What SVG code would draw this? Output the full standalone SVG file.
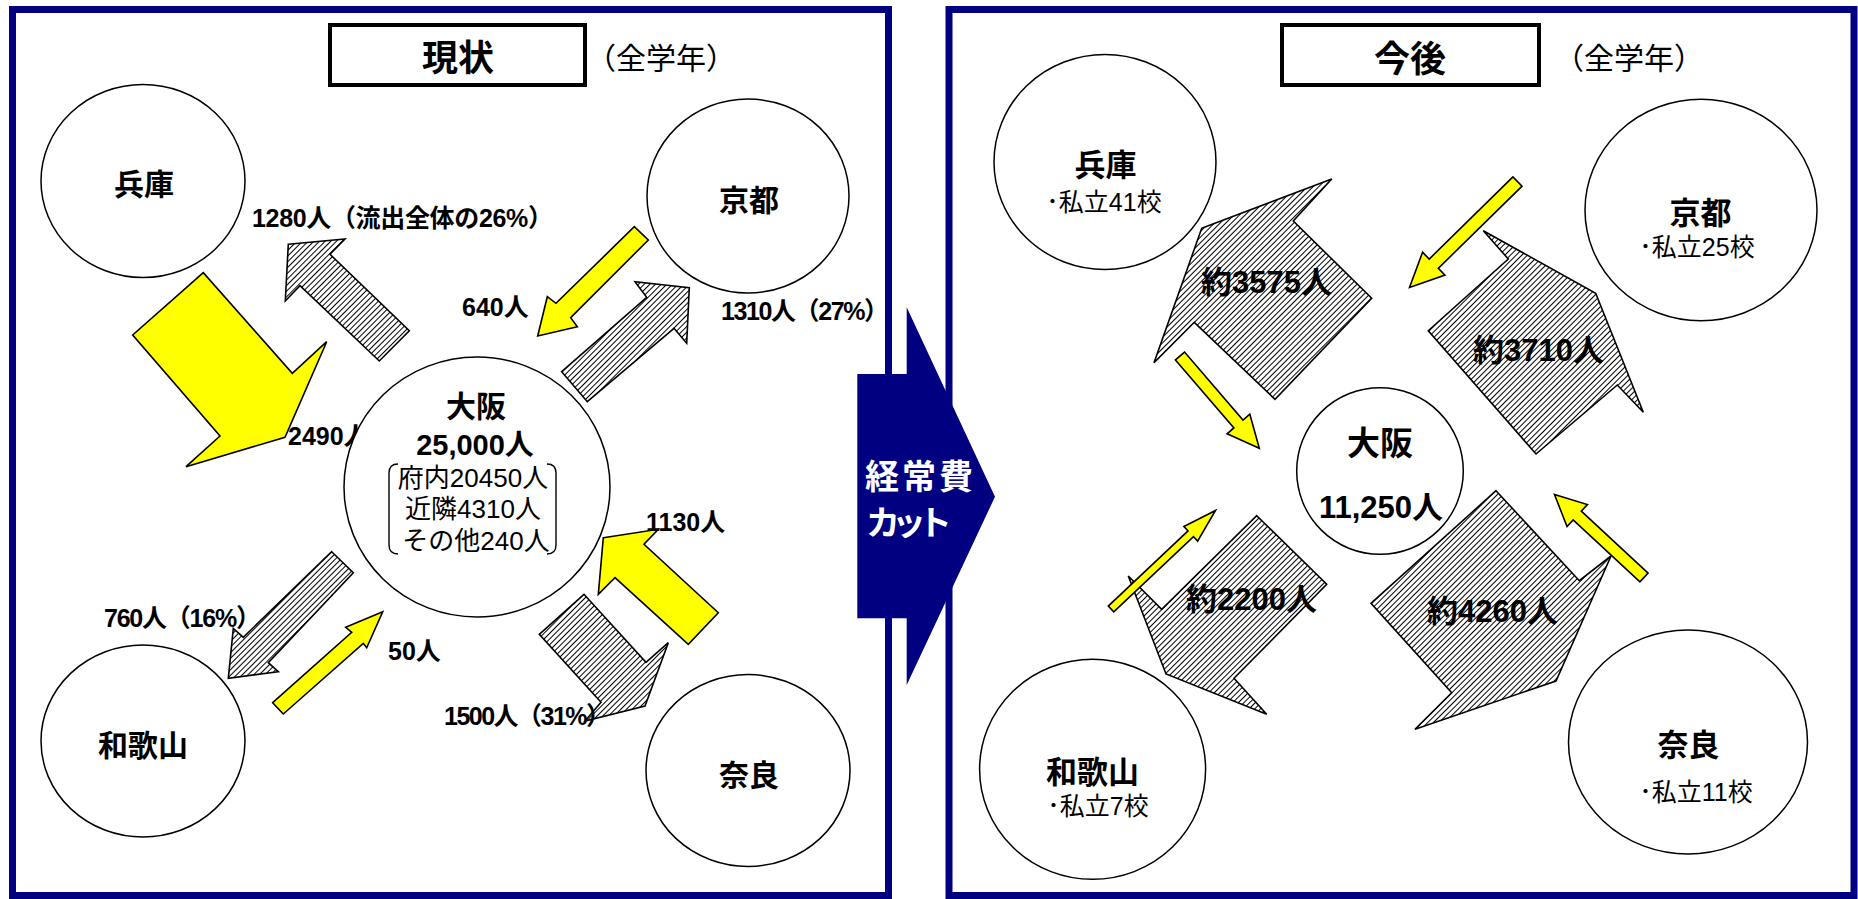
<svg xmlns="http://www.w3.org/2000/svg" width="1858" height="899" viewBox="0 0 1858 899">
<defs>
<style>
.panel{fill:none;stroke:#000080;stroke-width:7}
.title{fill:#fff;stroke:#000;stroke-width:4}
.node{fill:#fff;stroke:#000;stroke-width:1.5}
.yel{fill:#ffff00;stroke:#000;stroke-width:1.6}
.gry{fill:url(#hatch);stroke:#000;stroke-width:1.6}
.jb{font-family:"Noto Sans CJK JP",sans-serif;font-weight:bold;fill:#000}
.jr{font-family:"Noto Sans CJK JP",sans-serif;font-weight:normal;fill:#000}
.lb{font-family:"Liberation Sans","Noto Sans CJK JP",sans-serif;font-weight:bold;fill:#000}
.lr{font-family:"Liberation Sans","Noto Sans CJK JP",sans-serif;font-weight:normal;fill:#000}
.wt{font-family:"Noto Sans CJK JP",sans-serif;font-weight:bold;fill:#fff}
.brk{fill:none;stroke:#000;stroke-width:1.4}
</style>
<pattern id="hatch" patternUnits="userSpaceOnUse" width="4" height="4" patternTransform="rotate(45)">
<rect width="4" height="4" fill="#fff"/>
<rect width="1" height="4" fill="#000"/>
</pattern>
</defs>
<rect x="0" y="0" width="1858" height="899" fill="#fff"/>

<g id="panel-now">
<rect class="panel" x="12.5" y="9.5" width="876" height="886"/>
<rect class="title" x="330" y="25" width="255" height="60"/>
<text class="jb" x="458" y="71" font-size="36" text-anchor="middle">現状</text>
<text class="jr" x="586" y="69" font-size="30">（全学年）</text>
</g>

<g id="panel-future">
<rect class="panel" x="949" y="9.5" width="905" height="886"/>
<rect class="title" x="1282" y="25" width="257" height="60"/>
<text class="jb" x="1410" y="72" font-size="36" text-anchor="middle">今後</text>
<text class="jr" x="1554" y="69" font-size="30">（全学年）</text>
</g>

<g id="connectors">
<polygon class="yel" points="203.3,272.7 132.7,335 220,436 186,466.7 285,437.3 326.7,341.7 292.3,373.3"/>
<polygon class="gry" points="288.3,244.3 345,239 330,254.3 409.3,330.7 379.3,361 300,285.7 285.3,301"/>
<polygon class="yel" points="634.3,226.7 648.3,240 570.7,317.7 577.3,326.7 537.7,336 547.3,296.7 556,303.3"/>
<polygon class="gry" points="561.7,371.7 587.3,401.7 674,328.3 686.7,343.3 689.3,287.7 635,281.7 646.7,297.3"/>
<polygon class="gry" points="331.7,551.7 353.3,572.7 268.3,662.7 278.3,671.7 228.3,678.3 233.3,628.3 243.3,637.3"/>
<polygon class="yel" points="272.7,702.7 351.7,632.3 345.7,627.3 382.7,611.7 366.7,647.7 363.3,643.3 283.3,714"/>
<polygon class="yel" points="603.3,537.7 658.3,529.3 644,544.3 718.3,612.7 688.3,644.3 615,577.7 598.3,594.3"/>
<polygon class="gry" points="584,594.3 539.3,634.3 601,702.3 585,721 645,706 668.3,642.7 646,662.3"/>
<polygon fill="#000080" points="857.3,374 906.7,374 906.7,307.3 995,496.7 906.7,685 906.7,618.3 857.3,618.3"/>
<polygon class="gry" points="1201.7,228.3 1331.7,179 1293.3,221 1371.7,298.3 1275,399.3 1194.3,322.3 1154,362.7"/>
<polygon class="gry" points="1483.3,230.7 1508.3,259 1428.3,330.7 1536,454 1617.3,385 1643.3,412.3 1595.7,293.3"/>
<polygon class="gry" points="1256.7,515.7 1326.7,584.3 1234,678.3 1266.7,714.3 1166,674 1128.3,576 1161.7,609.3"/>
<polygon class="gry" points="1496,490.7 1579.3,580.7 1611,556 1556,681 1415,729.3 1451.7,692.7 1371,603.3"/>
<polygon class="yel" points="1512.95,176.86 1429.22,259.04 1422.56,252.26 1409.5,287.5 1444.98,275.1 1438.32,268.32 1522.05,186.14"/>
<polygon class="yel" points="1175.45,359.91 1233.9,427.94 1227.07,433.8 1259.3,448.3 1249.83,414.26 1243,420.12 1184.55,352.09"/>
<polygon class="yel" points="1113.74,611.91 1193.5,536.73 1197.62,541.1 1215.5,510.5 1183.9,526.54 1188.02,530.91 1108.26,606.09"/>
<polygon class="yel" points="1648.08,573.1 1581.31,511.18 1587.43,504.58 1554.5,494.5 1567.03,526.58 1573.15,519.98 1639.92,581.9"/>

<text class="lb" x="252" y="227" font-size="25" textLength="301">1280人（流出全体の26%）</text>
<text class="lb" x="462" y="316" font-size="25">640人</text>
<text class="lb" x="721" y="320" font-size="25" textLength="168">1310人（27%）</text>
<text class="lb" x="288" y="445" font-size="25">2490人</text>
<text class="lb" x="646" y="531" font-size="25">1130人</text>
<text class="lb" x="104" y="627" font-size="25" textLength="157">760人（16%）</text>
<text class="lb" x="388" y="660" font-size="25">50人</text>
<text class="lb" x="444" y="725" font-size="25" textLength="167">1500人（31%）</text>
<text class="wt" x="865" y="489" font-size="34" textLength="108">経常費</text>
<text class="wt" x="866" y="535" font-size="34" textLength="86">カット</text>
<text class="lb" x="1201" y="293" font-size="31">約3575人</text>
<text class="lb" x="1473" y="361" font-size="31">約3710人</text>
<text class="lb" x="1186" y="610" font-size="31">約2200人</text>
<text class="lb" x="1427" y="622" font-size="31">約4260人</text>
</g>

<g id="node-hyogo-now">
<ellipse class="node" cx="143" cy="181" rx="102" ry="96.5"/>
<text class="jb" x="144" y="195" font-size="30" text-anchor="middle">兵庫</text>
</g>
<g id="node-kyoto-now">
<ellipse class="node" cx="748" cy="196" rx="101" ry="97"/>
<text class="jb" x="749" y="211" font-size="30" text-anchor="middle">京都</text>
</g>
<g id="node-wakayama-now">
<ellipse class="node" cx="143" cy="741" rx="102" ry="96"/>
<text class="jb" x="143" y="756" font-size="30" text-anchor="middle">和歌山</text>
</g>
<g id="node-nara-now">
<ellipse class="node" cx="748" cy="770.5" rx="102" ry="96"/>
<text class="jb" x="749" y="786" font-size="30" text-anchor="middle">奈良</text>
</g>
<g id="node-osaka-now">
<ellipse class="node" cx="477" cy="487" rx="133" ry="130"/>
<text class="jb" x="476" y="417" font-size="30" text-anchor="middle">大阪</text>
<text class="lb" x="475" y="455" font-size="29" text-anchor="middle">25,000人</text>
<path class="brk" d="M398,464 Q389,464 389,473 L389,545 Q389,554 398,554"/>
<path class="brk" d="M547,464 Q556,464 556,473 L556,545 Q556,554 547,554"/>
<text class="lr" x="473" y="487" font-size="26" text-anchor="middle">府内20450人</text>
<text class="lr" x="473" y="518" font-size="26" text-anchor="middle">近隣4310人</text>
<text class="lr" x="476" y="550" font-size="26" text-anchor="middle">その他240人</text>
</g>

<g id="node-hyogo-future">
<ellipse class="node" cx="1105" cy="162" rx="111" ry="107.5"/>
<text class="jb" x="1105.5" y="176" font-size="31" text-anchor="middle">兵庫</text>
<text class="lr" x="1104" y="211" font-size="25" text-anchor="middle">･私立41校</text>
</g>
<g id="node-kyoto-future">
<ellipse class="node" cx="1701" cy="210" rx="116" ry="110.7"/>
<text class="jb" x="1700.5" y="224" font-size="31" text-anchor="middle">京都</text>
<text class="lr" x="1697" y="256" font-size="25" text-anchor="middle">･私立25校</text>
</g>
<g id="node-osaka-future">
<circle class="node" cx="1380" cy="471" r="83.3"/>
<text class="jb" x="1380" y="455" font-size="33" text-anchor="middle">大阪</text>
<text class="lb" x="1381" y="518" font-size="31" text-anchor="middle">11,250人</text>
</g>
<g id="node-wakayama-future">
<ellipse class="node" cx="1092.6" cy="769.3" rx="113" ry="110"/>
<text class="jb" x="1092.6" y="783" font-size="31" text-anchor="middle">和歌山</text>
<text class="lr" x="1098" y="815" font-size="25" text-anchor="middle">･私立7校</text>
</g>
<g id="node-nara-future">
<ellipse class="node" cx="1688" cy="742" rx="119.5" ry="112"/>
<text class="jb" x="1688.5" y="756" font-size="31" text-anchor="middle">奈良</text>
<text class="lr" x="1696" y="801" font-size="25" text-anchor="middle">･私立11校</text>
</g>
</svg>
